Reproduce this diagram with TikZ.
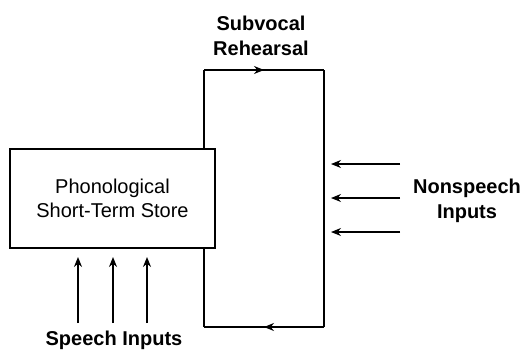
\documentclass[tikz,border=0pt]{standalone}
\usepackage{fontspec}
\setmainfont{Liberation Sans}
\usetikzlibrary{arrows.meta,decorations.markings}
\begin{document}
\begin{tikzpicture}[x=1pt,y=-1pt,
  lbl/.style={font=\fontsize{20}{25}\selectfont\bfseries,align=center},
  storebox/.style={draw,line width=2.6pt,fill=white,minimum width=205pt,minimum height=99pt,
    font=\fontsize{20}{24}\selectfont,align=center},
  loopline/.style={line width=1.4pt},
  inarrow/.style={line width=1.2pt,-{Stealth[length=10pt,width=8pt]}},
  midarrow/.style={postaction={decorate},decoration={markings,
    mark=at position 0.5 with {\arrow{Stealth[length=10pt,width=8pt]}}}}]
\useasboundingbox (0,0) rectangle (524,349);
% loop corners
\coordinate (tl) at (204,70);
\coordinate (tr) at (324,70);
\coordinate (br) at (324,327);
\coordinate (bl) at (204,327);
\draw[loopline] (bl) -- (tl);
\draw[loopline,midarrow] (tl) -- (tr);
\draw[loopline] (tr) -- (br);
\draw[loopline,midarrow] (br) -- (bl);
% store box
\node[storebox] (store) at (112.5,198.5) {Phonological\\Short-Term Store};
% labels
\node[lbl] (sub) at (261,36) {Subvocal\\Rehearsal};
\node[lbl] (non) at (467,201) {Nonspeech\\Inputs};
\node[lbl] (sp) at (114,340) {Speech Inputs};
% nonspeech arrows
\foreach \i/\y in {1/164,2/198,3/232}{
  \coordinate (ns\i) at (400,\y);
  \coordinate (ne\i) at (331,\y);
  \draw[inarrow] (ns\i) -- (ne\i);
}
% speech arrows
\foreach \i/\x in {1/78,2/113,3/147}{
  \coordinate (ss\i) at (\x,323);
  \coordinate (se\i) at (\x,257);
  \draw[inarrow] (ss\i) -- (se\i);
}
\end{tikzpicture}
\end{document}
